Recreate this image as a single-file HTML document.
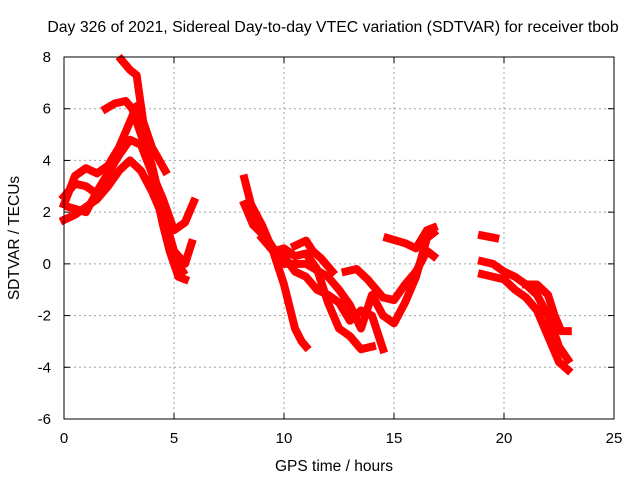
<!DOCTYPE html>
<html><head><meta charset="utf-8"><style>
html,body{margin:0;padding:0;background:#fff}
svg{display:block;font-family:"Liberation Sans",sans-serif}
</style></head><body>
<svg id="chart" width="640" height="480">
<text x="333" y="32" font-size="15.8" text-anchor="middle">Day 326 of 2021, Sidereal Day-to-day VTEC variation (SDTVAR) for receiver tbob</text>
<text x="334" y="471" font-size="15.5" text-anchor="middle">GPS time / hours</text>
<text transform="translate(19,238) rotate(-90)" font-size="15.5" text-anchor="middle">SDTVAR / TECUs</text>
<g id="grid"></g><g id="ticks"></g><g id="series"></g>
<rect x="64" y="57" width="550" height="362" fill="none" stroke="#000" stroke-width="1"/>
</svg>
<script>
const xTicks=[0,5,10,15,20,25];
const yTicks=[-6,-4,-2,0,2,4,6,8];
const t1=[[0,2.3],[0.5,3.4],[1,3.7],[1.5,3.5],[2,3.8],[2.5,4.5],[3,5.5],[3.3,6.1],[3.6,5.5],[4,3.5],[4.5,1.5],[4.8,0.5],[5.2,-0.5],[5.5,-0.6]];
const t2=[[0,1.7],[0.5,1.9],[1,2.2],[1.5,2.5],[2,3.0],[2.5,3.6],[3,4.0],[3.5,3.6],[4,2.8],[4.5,1.8],[5,0.2],[5.4,-0.3]];
const t3=[[0.2,2.2],[1,2.0],[1.5,2.8],[2,3.5],[2.5,4.2],[3,4.8],[3.5,4.6],[4,3.5],[4.5,2.5],[5,1.3],[5.5,1.6],[5.9,2.4]];
const t4=[[1.9,6.0],[2.3,6.2],[2.8,6.3],[3.1,6.0],[3.5,5.0],[4,3.8],[4.5,2.0],[5,0.5],[5.5,0.0],[5.8,0.8]];
const t5=[[2.6,7.9],[3,7.5],[3.3,7.3],[3.6,5.5],[4,4.5],[4.6,3.6]];
const t6=[[0,2.6],[0.5,3.1],[1,3.0],[1.5,2.7],[2,3.2]];
const m1=[[8.2,3.3],[8.5,2.3],[9,1.5],[9.5,0.5],[10,-0.8],[10.5,-2.5],[10.8,-3.0],[11,-3.2]];
const m2=[[8.2,2.3],[8.6,1.5],[9.2,1.0],[9.6,0.5],[10,0.6],[10.5,0.3],[11,0.4],[11.5,-0.2],[12,-1.5],[12.5,-2.5],[13,-2.8],[13.5,-3.3],[14,-3.2]];
const m3=[[9,1.0],[9.5,0.5],[10,0.0],[10.5,0.0],[11,0],[12,-0.5],[12.5,-1.0],[13,-1.6],[13.5,-2.5],[14,-1.2],[14.5,-2.0],[15,-2.3],[15.5,-1.5],[16,-0.5],[16.5,1.0],[16.8,1.2]];
const m4=[[10,0.3],[10.5,-0.3],[11,-0.5],[11.5,-1],[12,-1.2],[12.5,-1.5],[13,-2.2],[13.5,-1.8],[14,-2.0],[14.5,-3.3]];
const m5=[[12.8,-0.3],[13.3,-0.2],[13.8,-0.6],[14.5,-1.3],[15,-1.4],[15.5,-0.8],[16,-0.3],[16.5,0.5],[16.8,0.3]];
const m6=[[14.7,1.0],[15.5,0.8],[16,0.6],[16.5,1.3],[16.8,1.4]];
const m7=[[10.5,0.7],[11,0.9],[11.3,0.5],[11.7,0.2],[12.2,-0.3]];
const r1=[[19,1.1],[19.6,1.0]];
const r2=[[19,0.1],[19.5,0],[20,-0.3],[20.5,-0.5],[21,-0.8],[21.5,-1.2],[22,-2.0],[22.5,-3.2],[22.9,-3.7]];
const r3=[[19,-0.4],[19.5,-0.5],[20,-0.6],[20.5,-1.0],[21,-1.3],[21.5,-1.8],[22,-2.8],[22.5,-3.8],[22.9,-4.1]];
const r4=[[21,-0.8],[21.5,-0.8],[22,-1.2],[22.3,-2.0],[22.6,-2.6],[22.9,-2.6]];
const tracks=[t1,t2,t3,t4,t5,t6,m1,m2,m3,m4,m5,m6,m7,r1,r2,r3,r4];
const X0=64,X1=614,Y0=419,Y1=57,xmin=0,xmax=25,ymin=-6,ymax=8;
const sx=v=>X0+(v-xmin)/(xmax-xmin)*(X1-X0);
const sy=v=>Y0-(v-ymin)/(ymax-ymin)*(Y0-Y1);
const NS="http://www.w3.org/2000/svg";
const grid=document.getElementById('grid'),ticks=document.getElementById('ticks'),ser=document.getElementById('series');
function mk(tag,attrs,parent){const e=document.createElementNS(NS,tag);for(const k in attrs)e.setAttribute(k,attrs[k]);parent.appendChild(e);return e;}
xTicks.forEach(v=>{
  const x=sx(v);
  if(v>xmin&&v<xmax){const g=mk('line',{x1:x,x2:x,y1:Y1,y2:Y0,stroke:'#a0a0a0','stroke-dasharray':'2,3'},grid);
  
  }
  mk('line',{x1:x,x2:x,y1:Y0,y2:Y0-6,stroke:'#000'},ticks);
  mk('line',{x1:x,x2:x,y1:Y1,y2:Y1+6,stroke:'#000'},ticks);
  const t=mk('text',{x:x,y:Y0+24,'font-size':15,'text-anchor':'middle'},ticks);t.textContent=v;
  
  
});
yTicks.forEach(v=>{
  const y=sy(v);
  if(v>ymin&&v<ymax){const g=mk('line',{x1:X0,x2:X1,y1:y,y2:y,stroke:'#a0a0a0','stroke-dasharray':'2,3'},grid);
  
  }
  mk('line',{x1:X0,x2:X0+6,y1:y,y2:y,stroke:'#000'},ticks);
  mk('line',{x1:X1,x2:X1-6,y1:y,y2:y,stroke:'#000'},ticks);
  const t=mk('text',{x:X0-13,y:y+5,'font-size':15,'text-anchor':'end'},ticks);t.textContent=v;
  
  
});
tracks.forEach(tr=>{
  const p=mk('polyline',{points:tr.map(d=>sx(d[0])+','+sy(d[1])).join(' '),fill:'none',stroke:'#ff0000','stroke-width':8,'stroke-linejoin':'round','stroke-linecap':'square'},ser);
  
  
});
</script>
</body></html>
